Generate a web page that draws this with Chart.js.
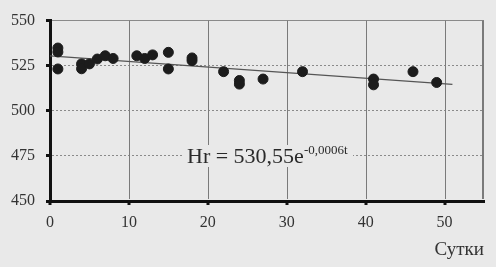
<!DOCTYPE html>
<html>
<head>
<meta charset="utf-8">
<script src="https://cdn.jsdelivr.net/npm/chart.js@4/dist/chart.umd.min.js"></script>
<style>
  html, body { margin: 0; background: #e9e9e9; }
  canvas { display: block; }
  #eq {
    position: absolute;
    font: 22px/22px 'Liberation Serif', 'Times New Roman', serif;
    color: #2a2a2a; background: #e9e9e9; padding: 0 5px; white-space: nowrap;
  }
  #eq sup { font-size: 13px; vertical-align: 9px; line-height: 0; }
</style>
</head>
<body>
<canvas id="chart" width="496" height="267"></canvas>
<div id="eq"></div>
<script>
// measured points: days vs Hr
const days = [1, 1, 1, 4, 4, 5, 6, 7, 8, 11, 12, 13, 15, 15, 18, 18, 22, 24, 24, 27, 32, 41, 41, 46, 49];
const hr = [534.8, 532.6, 523.2, 526, 523.3, 526, 528.7, 530.5, 529, 530.5, 529, 531, 532.4, 523.2, 529.3, 527.8, 521.7, 516.8, 514.8, 517.6, 521.7, 517.6, 514.4, 521.7, 515.7];

// trend line
const trendDays = [0, 51];
const trendHr = [530.5, 514.6];

const xTicks = [0, 10, 20, 30, 40, 50];
const yTicks = [450, 475, 500, 525, 550];
const xTitle = "Сутки";
const equation = "Hr = 530,55e";
const equationPower = "-0,0006t";

const serif = "'Liberation Serif', 'Times New Roman', serif";

const ctx = document.getElementById("chart").getContext("2d");

// vertical grid lines, right frame and x tick marks, placed by the x scale
const xGrid = {
  id: "xGrid",
  beforeDatasetsDraw(chart) {
    const c = chart.ctx;
    const a = chart.chartArea;
    const x = chart.scales.x;
    c.save();
    c.strokeStyle = "#7a7a7a";
    c.lineWidth = 1;
    xTicks.slice(1).forEach(v => {
      const px = Math.round(x.getPixelForValue(v)) + 0.5;
      c.beginPath();
      c.moveTo(px, a.top);
      c.lineTo(px, a.bottom - 2);
      c.stroke();
    });
    c.lineWidth = 2;
    c.beginPath();
    c.moveTo(a.right - 1, a.top);
    c.lineTo(a.right - 1, a.bottom - 2);
    c.stroke();
    c.fillStyle = "#111";
    xTicks.forEach(v => {
      const px = Math.round(x.getPixelForValue(v));
      c.fillRect(px - 1.5, a.bottom, 3, 4);
    });
    c.restore();
  }
};

let chart = new Chart(ctx, {
  type: "scatter",
  data: {
    datasets: [{
      data: days.map((d, i) => ({ x: d, y: hr[i] })),
      backgroundColor: "#1c1c1c",
      borderColor: "#1c1c1c",
      pointRadius: 5
    }, {
      type: "line",
      data: trendDays.map((d, i) => ({ x: d, y: trendHr[i] })),
      borderColor: "#555",
      borderWidth: 1.2,
      pointRadius: 0,
      fill: false
    }]
  },
  options: {
    responsive: false,
    animation: false,
    layout: { padding: { top: 20, right: 12, left: 0, bottom: 0 } },
    plugins: {
      legend: { display: false },
      tooltip: { enabled: false }
    },
    scales: {
      x: {
        type: "linear",
        min: 0,
        max: 55,
        afterBuildTicks: s => { s.ticks = xTicks.map(v => ({ value: v })); },
        afterFit: s => { s.height = 66; },
        ticks: {
          padding: 8,
          color: "#333",
          font: { family: serif, size: 16 }
        },
        grid: {
          display: false,
          tickLength: 4
        },
        border: { color: "#111", width: 3 },
        title: {
          display: true,
          text: xTitle,
          align: "end",
          color: "#333",
          font: { family: serif, size: 19 },
          padding: { top: 0, bottom: 6 }
        }
      },
      y: {
        min: 450,
        max: 550,
        afterBuildTicks: s => { s.ticks = yTicks.map(v => ({ value: v })); },
        afterFit: s => { s.width = 50; },
        ticks: {
          padding: 11,
          color: "#333",
          font: { family: serif, size: 16 }
        },
        grid: {
          color: "#8a8a8a",
          tickColor: "#111",
          tickLength: 4,
          tickWidth: 3
        },
        border: {
          color: "#111",
          width: 3,
          dash: c => (c.tick && c.tick.value === 550 ? [] : [2, 2])
        }
      }
    }
  },
  plugins: [xGrid]
});

// equation label placed from the chart's own scales
const eq = document.getElementById("eq");
eq.style.left = Math.round(chart.scales.x.getPixelForValue(16.7)) + "px";
eq.style.top = Math.round(chart.scales.y.getPixelForValue(481)) + "px";
eq.textContent = equation;
const sup = document.createElement("sup");
sup.textContent = equationPower;
eq.appendChild(sup);
</script>
</body>
</html>
